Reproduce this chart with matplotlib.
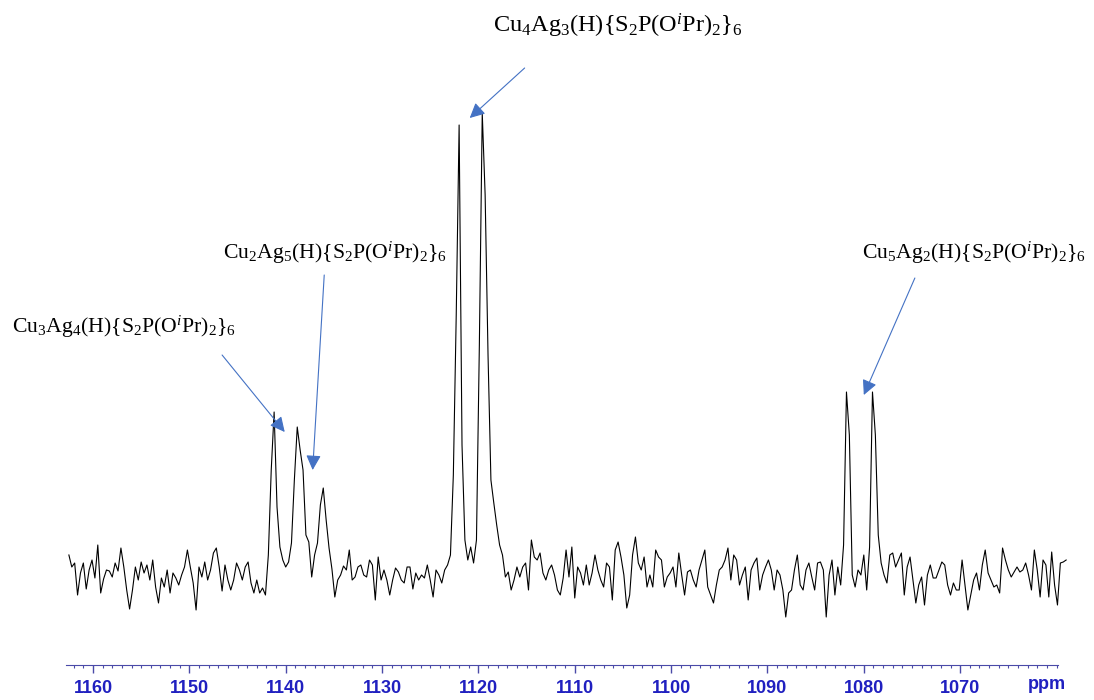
import numpy as np
import matplotlib
matplotlib.use("Agg")
import matplotlib.pyplot as plt

plt.rcParams['mathtext.fontset'] = 'custom'
plt.rcParams['mathtext.rm'] = 'Liberation Serif'
plt.rcParams['mathtext.it'] = 'Liberation Serif:italic'

# spectrum, 0.3 ppm steps from 1162.5 down to 1059.0
ppm_start, ppm_step = 1162.5, 0.3
intensity = [
    20, 8, 12, -20, 2, 12, -14, 5, 15, -3,
    30, -18, -4, 5, 4, -2, 12, 4, 27, 8,
    -15, -34, -15, 8, -5, 13, 2, 10, -5, 15,
    -12, -28, -3, -12, 5, -18, 2, -3, -10, 0,
    8, 25, 8, -8, -35, 8, -2, 13, -5, 5,
    22, 27, 8, -16, 10, -5, -15, -5, 12, 5,
    -5, 8, 13, -8, -18, -5, -18, -13, -20, 20,
    105, 163, 68, 28, 15, 8, 13, 32, 95, 148,
    125, 105, 40, 33, -2, 20, 32, 70, 87, 55,
    27, 6, -22, -5, 0, 9, 5, 25, -5, -2,
    8, 10, 0, -2, 15, 10, -25, 18, -5, 5,
    -5, -20, -5, 7, 3, -5, -8, 8, 8, -14,
    2, -5, 0, -3, 10, -5, -22, 5, 0, -8,
    5, 10, 20, 100, 260, 450, 130, 35, 15, 28,
    12, 35, 230, 462, 380, 220, 95, 72, 50, 30,
    20, -2, 3, -15, -5, 8, -2, 8, 12, -15,
    35, 18, 15, 22, 2, -5, 5, 10, 0, -15,
    -20, -3, 25, -2, 28, -23, 8, 2, -10, 10,
    -10, 2, 20, 5, -5, -12, 12, 8, -25, 25,
    33, 18, 0, -33, -20, 20, 38, 12, 5, 18,
    -12, 0, -12, 25, 18, 15, -12, -2, 2, 8,
    -12, 22, 0, -20, 3, 5, -5, -12, 5, 15,
    25, -12, -20, -28, -10, 5, 8, 15, 27, -5,
    20, 15, -10, 0, 8, -25, 5, 12, 17, -15,
    0, 8, 15, 5, -15, 5, 0, -15, -42, -18,
    -15, 5, 20, -10, -15, 5, 12, -2, -15, 12,
    13, 5, -42, 0, 15, -20, 8, -10, 30, 183,
    140, 0, -12, 5, 0, 20, -15, 28, 183, 140,
    40, 12, 0, -8, 20, 22, 8, 15, 22, -20,
    8, 18, -5, -28, -10, -2, -30, 0, 10, -3,
    -3, 5, 13, 10, -10, -20, -8, -15, -15, 15,
    -10, -35, -20, -5, 2, -15, 10, 25, 2, -5,
    -12, -10, -18, 27, 15, 5, -2, 3, 8, 3,
    5, 12, 0, -15, 25, 5, -22, 15, 10, -22,
    23, -10, -30, 12, 13, 15,
]
ppm = ppm_start - ppm_step * np.arange(len(intensity))

major_ticks = [1160, 1150, 1140, 1130, 1120, 1110, 1100, 1090, 1080, 1070]

labels = [
    r'Cu$_4$Ag$_3$(H){S$_2$P(O$^i$Pr)$_2$}$_6$',
    r'Cu$_2$Ag$_5$(H){S$_2$P(O$^i$Pr)$_2$}$_6$',
    r'Cu$_3$Ag$_4$(H){S$_2$P(O$^i$Pr)$_2$}$_6$',
    r'Cu$_5$Ag$_2$(H){S$_2$P(O$^i$Pr)$_2$}$_6$',
]
label_pos = [(1118.5, 543), (1146.5, 316), (1168.4, 242), (1080.2, 316)]
label_size = [17.5, 15.7, 15.7, 15.7]
arrow_tail = [(1115.2, 507), (1136.0, 300), (1146.6, 220), (1074.7, 297)]
arrow_tip = [(1120.9, 457), (1137.2, 105), (1140.1, 143), (1080.0, 180)]

fig = plt.figure(figsize=(10.94, 7.0), dpi=100)
ax = fig.add_axes([66 / 1094, 35 / 700, 1004 / 1094, 665 / 700])
ax.plot(ppm, intensity, color='black', lw=0.8)
ax.set_xlim(1162.8, 1058.6)
ax.set_ylim(-90, 575)

for s in ['left', 'top', 'right']:
    ax.spines[s].set_visible(False)
ax.spines['bottom'].set_bounds(1162.8, 1059.8)
ax.spines['bottom'].set_color('#4a4aa8')
ax.set_yticks([])
ax.set_xticks(major_ticks)
ax.set_xticks(np.arange(1060, 1163, 1), minor=True)
ax.tick_params(axis='x', which='major', length=6, width=1, color='#4a4aa8',
               labelcolor='#2020c0', pad=5)
ax.tick_params(axis='x', which='minor', length=2.2, width=0.8, color='#4a4aa8')
for t in ax.get_xticklabels():
    t.set_fontfamily('Liberation Sans')
    t.set_fontweight('bold')
    t.set_fontsize(13)
ax.text(1061.0, -0.017, 'ppm', transform=ax.get_xaxis_transform(), ha='center', va='top',
        fontsize=13, fontweight='bold', color='#2020c0', family='Liberation Sans')

for lab, pos, fs in zip(labels, label_pos, label_size):
    ax.text(pos[0], pos[1], lab, ha='left', va='baseline', fontsize=fs,
            family='Liberation Serif', clip_on=False)
for tail, tip in zip(arrow_tail, arrow_tip):
    ax.annotate('', xy=tip, xytext=tail,
                arrowprops=dict(arrowstyle='-|>,head_length=0.6,head_width=0.3',
                                color='#4472c4', lw=0.8, mutation_scale=15,
                                shrinkA=0, shrinkB=0))

fig.savefig('out.png', dpi=100)
